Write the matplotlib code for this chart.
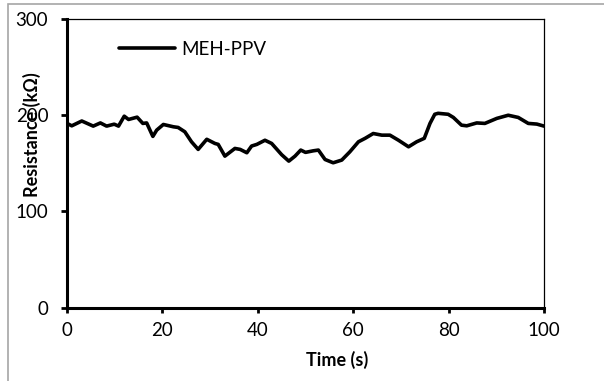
import numpy as np
import matplotlib.pyplot as plt
from matplotlib.patches import Rectangle

# time (s) and resistance (kOhm)
time = [0, 1, 3.1, 5.5, 7, 8.3, 9.9, 10.8, 12, 12.9, 14.7, 15.9, 16.7, 18, 18.8,
        20.2, 22.3, 23.3, 24.7, 26.1, 27.5, 29.3, 31, 31.7, 33.1, 35.2, 36.3,
        37.7, 38.7, 39.8, 41.5, 42.9, 45, 46.5, 47.8, 49, 50, 51.6, 52.7, 54.1,
        55.8, 57.6, 59.3, 61.1, 62.5, 64.2, 66, 67.7, 69.5, 71.6, 73.3, 74.9,
        76.1, 77.1, 77.8, 79.9, 81, 82.7, 83.8, 85.9, 87.6, 90.1, 92.5, 94.6,
        96.7, 98.5, 100]
resistance = [191.5, 189, 194, 188.7, 192, 188.7, 190.7, 188.7, 199, 195.6, 198,
              191.5, 192, 178, 184.5, 190.4, 188, 187.3, 182.8, 172.4, 164.5, 175,
              170.7, 169.7, 157.5, 165.5, 164.5, 161, 168, 169.7, 174, 170.7, 159,
              152.3, 157.5, 163.8, 161.4, 163, 163.8, 154, 150.6, 153.4, 162,
              172.4, 176, 181, 179.3, 179.3, 174, 167.2, 172.4, 176, 191.5, 201,
              202, 201, 197.7, 189.7, 189, 192, 191.5, 196.7, 200, 197.7, 191.5,
              190.8, 188.7]
xticks = [0, 20, 40, 60, 80, 100]
yticks = [0, 100, 200, 300]

plt.rcParams['font.family'] = ['Lato', 'DejaVu Sans']

fig = plt.figure(figsize=(6.04, 3.81), dpi=100)
ax = fig.add_axes([67 / 604, 1 - 307.7 / 381, 477 / 604, 288.7 / 381])

ax.plot(time, resistance, color='black', lw=2.6, label='MEH-PPV',
        solid_joinstyle='round', solid_capstyle='round')

ax.set_xlim(0, 100)
ax.set_ylim(0, 300)
ax.set_xticks(xticks)
ax.set_yticks(yticks)

for side in ['left', 'bottom']:
    ax.spines[side].set_linewidth(2.2)
for side in ['top', 'right']:
    ax.spines[side].set_linewidth(0.9)

ax.tick_params(axis='y', direction='out', length=4.5, width=2, pad=9,
               labelsize=13.5)
ax.tick_params(axis='x', direction='out', length=3.5, width=2, pad=7,
               labelsize=13.5)

ax.legend(loc='center left', bbox_to_anchor=((119 - 67) / 477, (307.7 - 49) / 288.7),
          frameon=False, borderpad=0, borderaxespad=0, handlelength=3.0,
          handletextpad=0.3, fontsize=13.5)

fig.text(32 / 604, 1 - 135 / 381, 'Resistance (kΩ)', rotation=90, ha='center',
         va='center', fontsize=13, fontweight='bold')
fig.text(337 / 604, 1 - 360 / 381, 'Time (s)', ha='center', va='center',
         fontsize=13, fontweight='bold')

fig.patches.append(Rectangle((8 / 604, -0.1), 1.2, 1.1 - 4 / 381,
                             transform=fig.transFigure, fill=False,
                             edgecolor='#a6a6a6', lw=1.2))

fig.savefig('out.png', dpi=100)
